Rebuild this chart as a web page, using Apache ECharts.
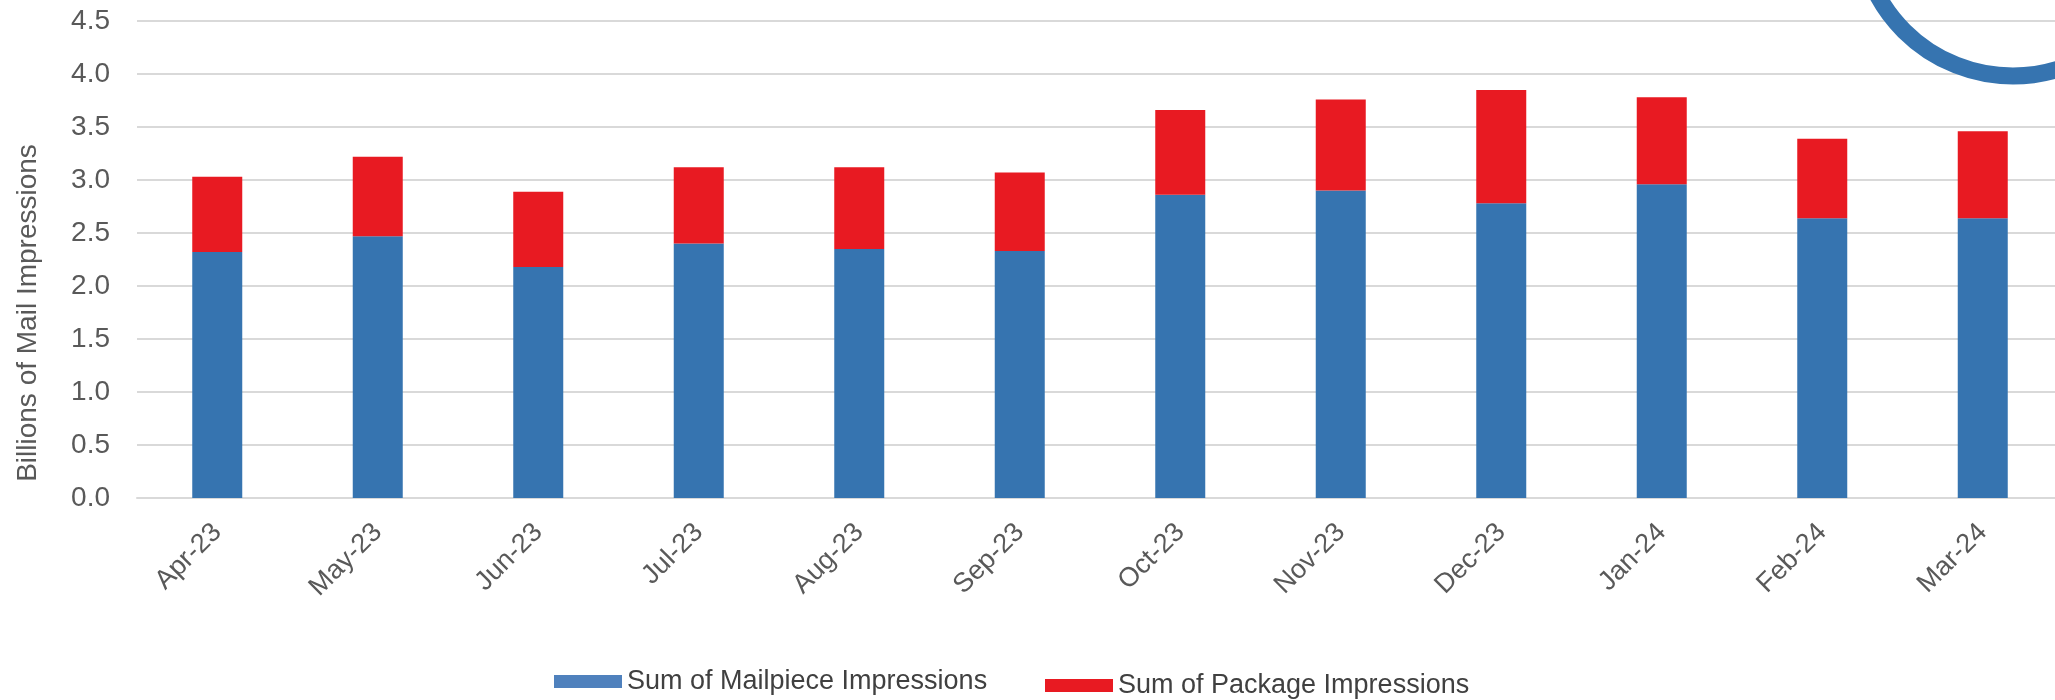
<!DOCTYPE html>
<html>
<head>
<meta charset="utf-8">
<script src="https://cdn.jsdelivr.net/npm/echarts@6/dist/echarts.min.js"></script>
<style>
  html, body { margin: 0; padding: 0; background: #fff; }
  #chart { width: 2055px; height: 700px; }
</style>
</head>
<body>
<div id="chart"></div>
<script>
const months = ['Apr-23', 'May-23', 'Jun-23', 'Jul-23', 'Aug-23', 'Sep-23',
  'Oct-23', 'Nov-23', 'Dec-23', 'Jan-24', 'Feb-24', 'Mar-24'];
const mailpiece = [2.32, 2.47, 2.18, 2.40, 2.35, 2.33, 2.86, 2.90, 2.78, 2.96, 2.64, 2.64];
const packages = [0.71, 0.75, 0.71, 0.72, 0.77, 0.74, 0.80, 0.86, 1.07, 0.82, 0.75, 0.82];
const yTicks = { min: 0, max: 4.5, step: 0.5 };

const FONT = '"Liberation Sans", Arial, sans-serif';
const BLUE = '#3674b0';
const RED = '#e81a22';

let chart = echarts.init(document.getElementById('chart'));

let option = {
  animation: false,
  backgroundColor: '#ffffff',
  grid: {
    left: 137,
    right: -8,
    top: 21,
    bottom: 202,
    outerBoundsMode: 'none'
  },
  legend: [
    {
      left: 554,
      top: 668,
      padding: 0,
      itemWidth: 68,
      itemHeight: 13,
      icon: 'rect',
      data: [{name: 'Sum of Mailpiece Impressions', itemStyle: {color: '#4f81bd'}}],
      textStyle: {fontFamily: FONT, fontSize: 27, color: '#404040'}
    },
    {
      left: 1045,
      top: 672,
      padding: 0,
      itemWidth: 68,
      itemHeight: 13,
      icon: 'rect',
      data: [{name: 'Sum of Package Impressions', itemStyle: {color: RED}}],
      textStyle: {fontFamily: FONT, fontSize: 27, color: '#404040'}
    }
  ],
  xAxis: {
    type: 'category',
    data: months,
    axisLine: {lineStyle: {color: '#d9d9d9', width: 2}},
    axisTick: {show: false},
    axisLabel: {
      rotate: 45,
      margin: 30,
      interval: 0,
      fontFamily: FONT,
      fontSize: 27,
      color: '#595959'
    }
  },
  yAxis: {
    type: 'value',
    min: yTicks.min,
    max: yTicks.max,
    interval: yTicks.step,
    axisLine: {show: false},
    axisTick: {show: false},
    splitLine: {lineStyle: {color: '#d9d9d9', width: 2}},
    axisLabel: {
      margin: 27,
      fontFamily: FONT,
      fontSize: 28,
      color: '#595959',
      formatter: v => v.toFixed(1)
    }
  },
  series: [
    {
      name: 'Sum of Mailpiece Impressions',
      type: 'bar',
      stack: 'total',
      barWidth: 50,
      itemStyle: {color: BLUE},
      data: mailpiece
    },
    {
      name: 'Sum of Package Impressions',
      type: 'bar',
      stack: 'total',
      barWidth: 50,
      itemStyle: {color: RED},
      data: packages
    }
  ],
  graphic: [
    {
      type: 'text',
      x: 28,
      y: 313,
      rotation: Math.PI / 2,
      style: {
        text: 'Billions of Mail Impressions',
        font: '28px "Liberation Sans", Arial, sans-serif',
        fill: '#595959',
        textAlign: 'center',
        textVerticalAlign: 'middle'
      }
    },
    {
      // partial ring in the top-right corner
      type: 'circle',
      z: 100,
      shape: {cx: 2013, cy: -78, r: 154},
      style: {fill: 'none', stroke: BLUE, lineWidth: 17}
    }
  ]
};

chart.setOption(option);
</script>
</body>
</html>
